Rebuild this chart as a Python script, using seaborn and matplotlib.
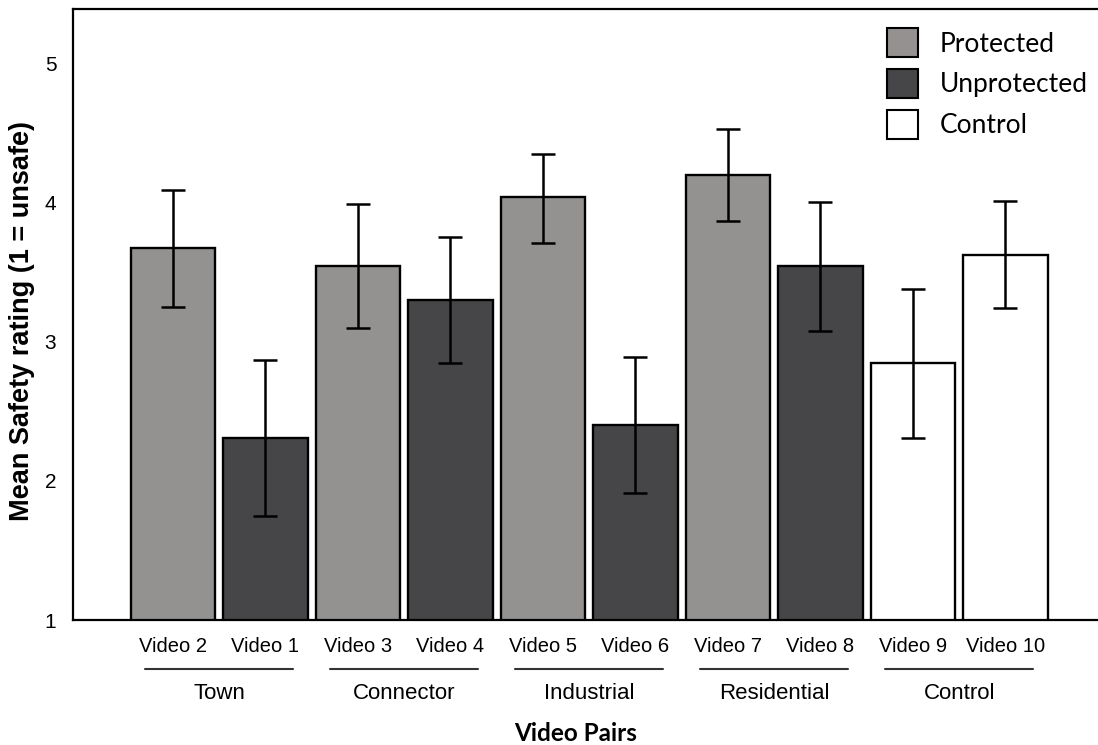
import matplotlib
matplotlib.use("Agg")
import matplotlib.pyplot as plt
import matplotlib.transforms as mtransforms
from matplotlib.patches import Patch
import seaborn as sns
import pandas as pd
import numpy as np

videos = ["Video 2", "Video 1", "Video 3", "Video 4", "Video 5",
          "Video 6", "Video 7", "Video 8", "Video 9", "Video 10"]
types = ["Protected", "Unprotected", "Protected", "Unprotected", "Protected",
         "Unprotected", "Protected", "Unprotected", "Control", "Control"]
means = [3.67, 2.31, 3.54, 3.30, 4.04, 2.40, 4.20, 3.54, 2.85, 3.62]
err_low = [3.25, 1.75, 3.10, 2.85, 3.71, 1.91, 3.87, 3.08, 2.31, 3.24]
err_high = [4.09, 2.87, 3.99, 3.75, 4.35, 2.89, 4.53, 4.00, 3.38, 4.01]
groups = ["Town", "Connector", "Industrial", "Residential", "Control"]
legend_labels = ["Protected", "Unprotected", "Control"]
colors = {"Protected": "#959190", "Unprotected": "#464648", "Control": "#ffffff"}

df = pd.DataFrame({"video": videos, "type": types, "mean": means})

sns.set_theme(style="white")
plt.rcParams["font.family"] = ["Liberation Sans", "DejaVu Sans"]
plt.rcParams["text.color"] = "black"
plt.rcParams["xtick.color"] = "black"
plt.rcParams["ytick.color"] = "black"

fig = plt.figure(figsize=(10.98, 7.45), dpi=100)
ax = fig.add_axes([73 / 1098, 125 / 745, 1 - 73 / 1098, 611 / 745])

sns.barplot(data=df, x="video", y="mean", hue="type", order=videos,
            hue_order=legend_labels, palette=colors, dodge=False, width=0.91,
            edgecolor="black", linewidth=1.7, legend=False, ax=ax, zorder=2)

xpos = np.arange(len(videos))
m = np.array(means)
yerr = np.vstack([m - np.array(err_low), np.array(err_high) - m])
ax.errorbar(xpos, m, yerr=yerr, fmt="none", ecolor="black", elinewidth=1.8,
            capsize=8.3, capthick=1.8, zorder=3)

ax.set_ylim(1, 5.39)
ax.set_xlim(-1.08, 10.0)
ax.set_yticks([1, 2, 3, 4, 5])
ax.set_yticklabels(["1", "2", "3", "4", "5"], fontsize=15)
ax.tick_params(axis="y", length=0, pad=12)
ax.set_xticks(xpos)
ax.set_xticklabels(videos, fontsize=14.5)
ax.tick_params(axis="x", length=0, pad=12)
ax.set_xlabel("")
ax.set_ylabel("")

for s in ["top", "left", "bottom"]:
    ax.spines[s].set_visible(True)
    ax.spines[s].set_color("black")
    ax.spines[s].set_linewidth(1.6)
ax.spines["right"].set_visible(False)

trans = mtransforms.blended_transform_factory(ax.transData, ax.transAxes)
for i, g in enumerate(groups):
    c = 2 * i + 0.5
    ax.plot([c - 0.8, c + 0.8], [-0.080, -0.080], color="#333333", lw=1.5,
            transform=trans, clip_on=False)
    ax.text(c, -0.1195, g, transform=trans, ha="center", va="center", fontsize=16)

fig.text(0.5246, 0.016, "Video Pairs", ha="center", va="center", fontsize=17.5,
         fontweight="bold", family=["Lato", "DejaVu Sans"])
fig.text(0.020, 0.569, "Mean Safety rating (1 = unsafe)", rotation=90,
         ha="center", va="center", fontsize=19.5, fontweight="bold")

handles = [Patch(facecolor=colors[k], edgecolor="black", linewidth=1.5) for k in legend_labels]
leg = ax.legend(handles, legend_labels, loc="upper left",
                bbox_to_anchor=((869 - 73) / 1025, 1 - 1 / 611), frameon=False,
                handlelength=1.14, handleheight=1.3, labelspacing=0.45,
                handletextpad=0.83, borderpad=0.2,
                prop={"family": "Lato", "size": 19})

fig.savefig("out.png", dpi=100)
